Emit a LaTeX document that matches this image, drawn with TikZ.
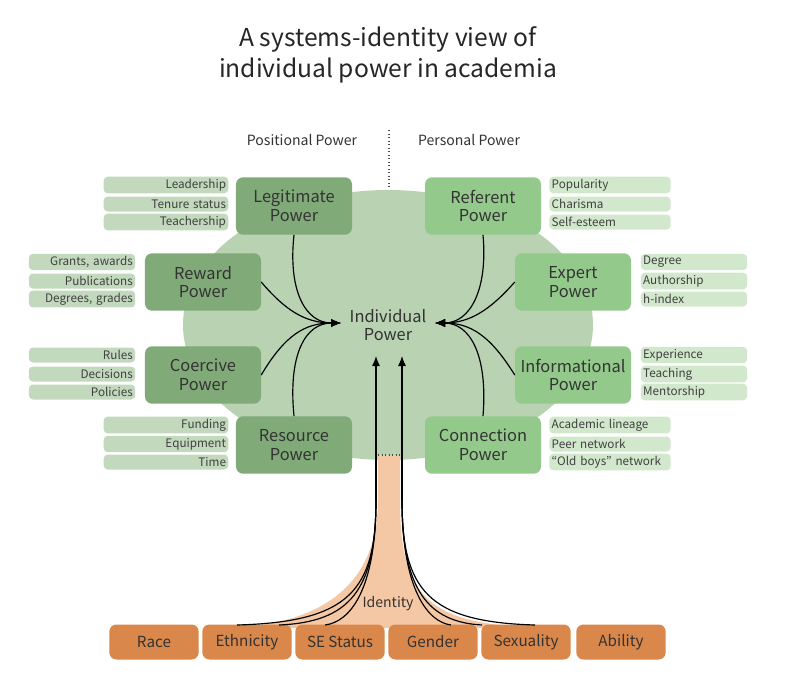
\documentclass[tikz,border=0pt]{standalone}
\usepackage{fontspec}
\setmainfont{Noto Sans CJK JP}
\usetikzlibrary{positioning,arrows.meta}
\definecolor{posgreen}{HTML}{80AA78}
\definecolor{pergreen}{HTML}{94C98C}
\definecolor{blobgreen}{HTML}{B8D2B2}
\definecolor{pillpos}{HTML}{C3D9BD}
\definecolor{pillper}{HTML}{D2E8CC}
\definecolor{idorange}{HTML}{D9874A}
\definecolor{trunkorange}{HTML}{F5C8A5}
\tikzset{
  power/.style={rectangle, rounded corners=6pt, minimum width=3.48cm, minimum height=1.72cm, align=center, font=\fontsize{14}{16}\selectfont, text=black!80, inner sep=1pt},
  pill/.style={rectangle, rounded corners=3.5pt, minimum height=0.45cm, inner sep=2pt, font=\fontsize{10}{11}\selectfont, text=black!75},
  pillL/.style={pill, fill=pillpos, align=right, text width=#1},
  pillR/.style={pill, fill=pillper, align=left, text width=#1},
  ident/.style={rectangle, rounded corners=6pt, fill=idorange, minimum width=2.68cm, minimum height=1.05cm, font=\fontsize{13}{15}\selectfont, text=black!80},
  link/.style={line width=1pt, -{Latex[length=3mm,width=2.4mm]}}
}
\begin{document}
\begin{tikzpicture}[x=0.03cm, y=-0.03cm]
    \useasboundingbox (0,0) rectangle (802,699);
    % Title and halves
    \node[font=\fontsize{21}{27}\selectfont, align=center, text=black!85] (title) at (388,55) {A systems-identity view of\\individual power in academia};
    \node[font=\fontsize{12}{14}\selectfont, text=black!80] (posl) at (302,140) {Positional Power};
    \node[font=\fontsize{12}{14}\selectfont, text=black!80] (perl) at (469,140) {Personal Power};
    \draw[dotted, line width=1pt, black!70] (389,130) -- (389,262);

    % Blob and trunk
    \fill[blobgreen] (388,325) ellipse [x radius=205, y radius=135];
    \fill[trunkorange] (378,455) -- (378,500) .. controls (378,600) and (300,625) .. (230,628) -- (545,628) .. controls (430,625) and (400,600) .. (400,500) -- (400,455) -- cycle;
    \draw[dotted, line width=1pt, black!70] (378,455) -- (400,455);

    % Power bases
    \node[power, fill=posgreen] (leg) at (294,206) {Legitimate\\Power};
    \node[power, fill=posgreen] (rew) at (203,282) {Reward\\Power};
    \node[power, fill=posgreen] (coe) at (203,375) {Coercive\\Power};
    \node[power, fill=posgreen] (res) at (294,445) {Resource\\Power};
    \node[power, fill=pergreen] (ref) at (483,206) {Referent\\Power};
    \node[power, fill=pergreen] (exp) at (573,282) {Expert\\Power};
    \node[power, fill=pergreen] (inf) at (573,375) {Informational\\Power};
    \node[power, fill=pergreen] (con) at (483,445) {Connection\\Power};
    \node[font=\fontsize{14}{16}\selectfont, align=center, text=black!80] (ip) at (388,325) {Individual\\Power};

    % Examples
    \node[pillL=3.6cm] (leg1) at (166,185) {Leadership};
    \node[pillL=3.6cm] (leg2) at (166,204) {Tenure status};
    \node[pillL=3.6cm] (leg3) at (166,222) {Teachership};
    \node[pillL=3.05cm] (rew1) at (82,262) {Grants, awards};
    \node[pillL=3.05cm] (rew2) at (82,281) {Publications};
    \node[pillL=3.05cm] (rew3) at (82,299) {Degrees, grades};
    \node[pillL=3.05cm] (coe1) at (82,355) {Rules};
    \node[pillL=3.05cm] (coe2) at (82,374) {Decisions};
    \node[pillL=3.05cm] (coe3) at (82,392) {Policies};
    \node[pillL=3.6cm] (res1) at (166,425) {Funding};
    \node[pillL=3.6cm] (res2) at (166,444) {Equipment};
    \node[pillL=3.6cm] (res3) at (166,462) {Time};
    \node[pillR=3.5cm] (ref1) at (610,185) {Popularity};
    \node[pillR=3.5cm] (ref2) at (610,204) {Charisma};
    \node[pillR=3.5cm] (ref3) at (610,222) {Self-esteem};
    \node[pillR=3.05cm] (exp1) at (694,262) {Degree};
    \node[pillR=3.05cm] (exp2) at (694,281) {Authorship};
    \node[pillR=3.05cm] (exp3) at (694,299) {h-index};
    \node[pillR=3.05cm] (inf1) at (694,355) {Experience};
    \node[pillR=3.05cm] (inf2) at (694,374) {Teaching};
    \node[pillR=3.05cm] (inf3) at (694,392) {Mentorship};
    \node[pillR=3.5cm] (con1) at (610,425) {Academic lineage};
    \node[pillR=3.5cm] (con2) at (610,444) {Peer network};
    \node[pillR=3.5cm] (con3) at (610,462) {``Old boys'' network};

    % Identity
    \node[ident] (race) at (154,642) {Race};
    \node[ident] (eth) at (247,642) {Ethnicity};
    \node[ident] (ses) at (340,642) {SE Status};
    \node[ident] (gen) at (433,642) {Gender};
    \node[ident] (sex) at (526,642) {Sexuality};
    \node[ident] (abl) at (621,642) {Ability};
    \node[font=\fontsize{12}{14}\selectfont, text=black!80] (idl) at (388,604) {Identity};

    % Connectors into individual power
    \coordinate (inL) at (341,323);
    \coordinate (inR) at (435,323);
    \draw[link] (leg.south) .. controls (288,290) and (305,323) .. (inL);
    \draw[link] (rew.east) .. controls (285,310) and (305,323) .. (inL);
    \draw[link] (coe.east) .. controls (285,335) and (305,323) .. (inL);
    \draw[link] (res.north) .. controls (288,355) and (305,323) .. (inL);
    \draw[link] (ref.south) .. controls (488,290) and (470,323) .. (inR);
    \draw[link] (exp.west) .. controls (490,310) and (470,323) .. (inR);
    \draw[link] (inf.west) .. controls (490,335) and (470,323) .. (inR);
    \draw[link] (con.north) .. controls (488,355) and (470,323) .. (inR);

    % Roots
    \coordinate (trL) at (376,500);
    \coordinate (trR) at (402,500);
    \coordinate (tipL) at (376,356);
    \coordinate (tipR) at (402,356);
    \draw[link] (trL) -- (tipL);
    \draw[link] (trR) -- (tipR);
    \foreach \x in {237,279,325} \draw[line width=1pt] (\x,625) .. controls (350,622) and (376,590) .. (trL);
    \foreach \x in {451,482,535} \draw[line width=1pt] (\x,625) .. controls (428,622) and (402,590) .. (trR);
\end{tikzpicture}
\end{document}
